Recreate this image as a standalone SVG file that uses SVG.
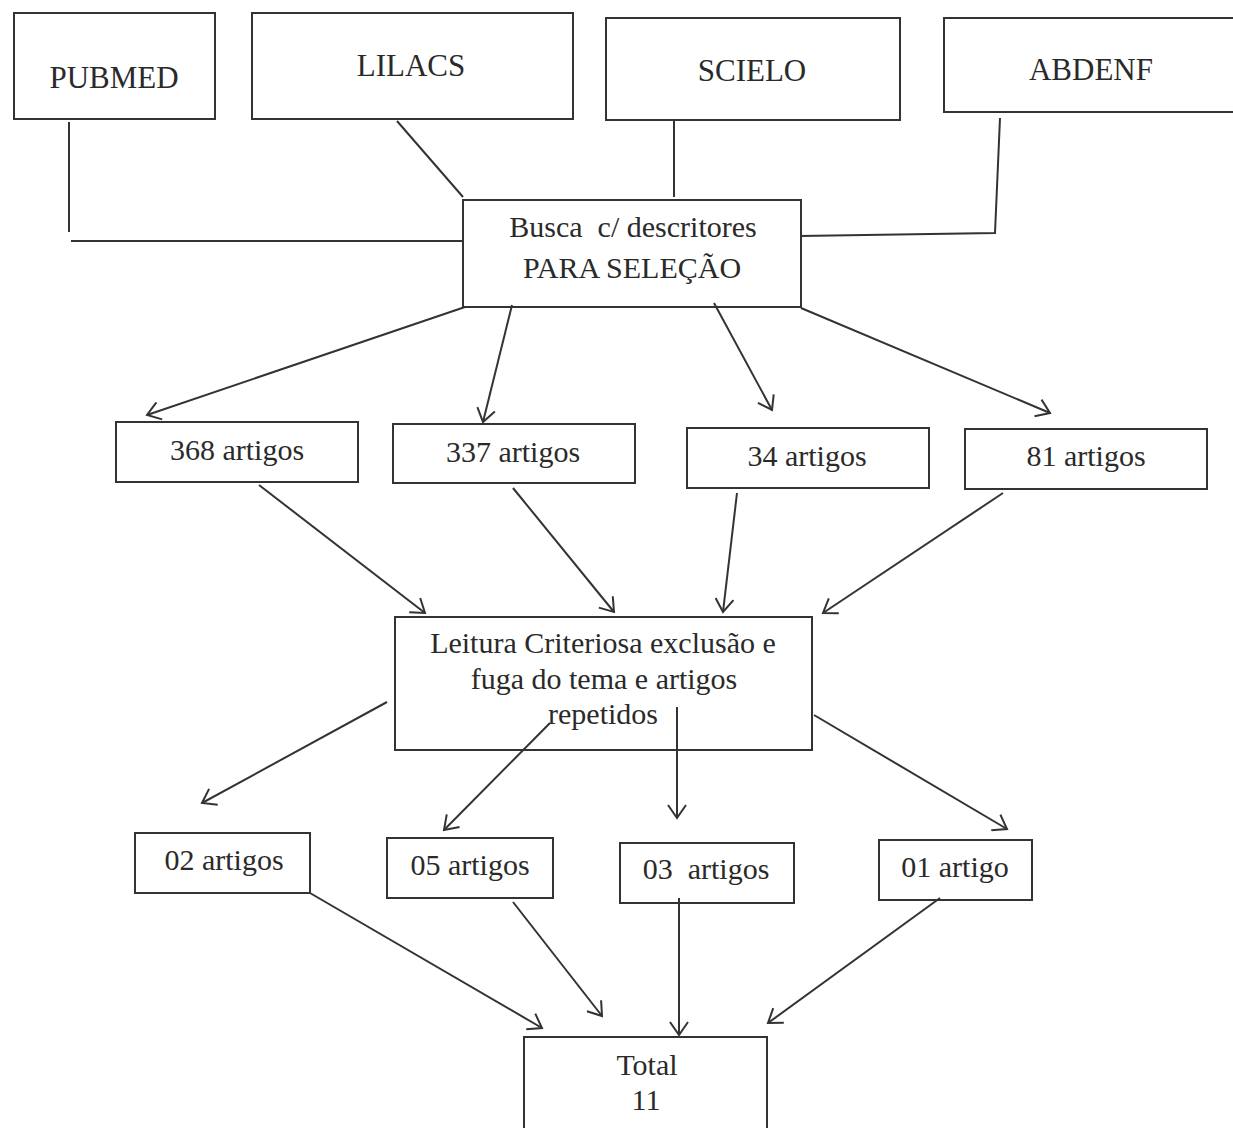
<svg xmlns="http://www.w3.org/2000/svg" width="1233" height="1128" viewBox="0 0 1233 1128">
<defs>
<style>
.box{fill:none;stroke:#333;stroke-width:2}
.t{font-family:"Liberation Serif","Times New Roman",serif;font-size:30px;fill:#2a2a2a;text-anchor:middle}
.ln{fill:none;stroke:#333;stroke-width:2}
.ar{fill:none;stroke:#333;stroke-width:2;marker-end:url(#ah)}
</style>
<marker id="ah" viewBox="0 0 16 20" markerWidth="16" markerHeight="20" refX="14" refY="10" orient="auto" markerUnits="userSpaceOnUse">
<path d="M1,1 L14,10 L1,19" fill="none" stroke="#333" stroke-width="2"/>
</marker>
</defs>
<rect width="1233" height="1128" fill="#fff"/>
<g id="connectors">
<polyline class="ln" points="69,122 69,232"/>
<polyline class="ln" points="71,241 463,241"/>
<line class="ln" x1="397" y1="121" x2="463" y2="197"/>
<line class="ln" x1="674" y1="121" x2="674" y2="197"/>
<polyline class="ln" points="1000,118 995,233 800,236"/>
<line class="ar" x1="465" y1="307" x2="147" y2="415"/>
<line class="ar" x1="512" y1="305" x2="483" y2="422"/>
<line class="ar" x1="714" y1="303" x2="772" y2="410"/>
<line class="ar" x1="801" y1="308" x2="1050" y2="413"/>
<line class="ar" x1="259" y1="485" x2="425" y2="613"/>
<line class="ar" x1="513" y1="488" x2="614" y2="612"/>
<line class="ar" x1="737" y1="493" x2="723" y2="612"/>
<line class="ar" x1="1003" y1="493" x2="823" y2="613"/>
<line class="ar" x1="387" y1="702" x2="202" y2="803"/>
<line class="ar" x1="550" y1="723" x2="444" y2="830"/>
<line class="ar" x1="677" y1="707" x2="677" y2="818"/>
<line class="ar" x1="814" y1="715" x2="1007" y2="829"/>
<line class="ar" x1="310" y1="893" x2="542" y2="1028"/>
<line class="ar" x1="513" y1="902" x2="602" y2="1016"/>
<line class="ar" x1="679" y1="898" x2="679" y2="1035"/>
<line class="ar" x1="940" y1="898" x2="768" y2="1023"/>
</g>
<g id="pubmed"><rect class="box" x="14" y="13" width="201" height="106"/><text class="t" x="114" y="88" style="font-size:31px">PUBMED</text></g>
<g id="lilacs"><rect class="box" x="252" y="13" width="321" height="106"/><text class="t" x="411" y="76" style="font-size:31px">LILACS</text></g>
<g id="scielo"><rect class="box" x="606" y="18" width="294" height="102"/><text class="t" x="752" y="81" style="font-size:31px">SCIELO</text></g>
<g id="abdenf"><rect class="box" x="944" y="18" width="300" height="94"/><text class="t" x="1091" y="80" style="font-size:31px">ABDENF</text></g>
<g id="busca"><rect class="box" x="463" y="200" width="338" height="107"/><text class="t" x="633" y="237" xml:space="preserve">Busca  c/ descritores</text><text class="t" x="632" y="278">PARA SELEÇÃO</text></g>
<g id="n368"><rect class="box" x="116" y="422" width="242" height="60"/><text class="t" x="237" y="460">368 artigos</text></g>
<g id="n337"><rect class="box" x="393" y="424" width="242" height="59"/><text class="t" x="513" y="462">337 artigos</text></g>
<g id="n34"><rect class="box" x="687" y="428" width="242" height="60"/><text class="t" x="807" y="466">34 artigos</text></g>
<g id="n81"><rect class="box" x="965" y="429" width="242" height="60"/><text class="t" x="1086" y="466">81 artigos</text></g>
<g id="leitura"><rect class="box" x="395" y="617" width="417" height="133"/><text class="t" x="603" y="653">Leitura Criteriosa exclusão e</text><text class="t" x="604" y="689">fuga do tema e artigos</text><text class="t" x="603" y="724">repetidos</text></g>
<g id="n02"><rect class="box" x="135" y="833" width="175" height="60"/><text class="t" x="224" y="870">02 artigos</text></g>
<g id="n05"><rect class="box" x="387" y="838" width="166" height="60"/><text class="t" x="470" y="875">05 artigos</text></g>
<g id="n03"><rect class="box" x="620" y="843" width="174" height="60"/><text class="t" x="706" y="879" xml:space="preserve">03  artigos</text></g>
<g id="n01"><rect class="box" x="879" y="840" width="153" height="60"/><text class="t" x="955" y="877">01 artigo</text></g>
<g id="total"><rect class="box" x="524" y="1037" width="243" height="110"/><text class="t" x="647" y="1075">Total</text><text class="t" x="646" y="1110">11</text></g>
</svg>
